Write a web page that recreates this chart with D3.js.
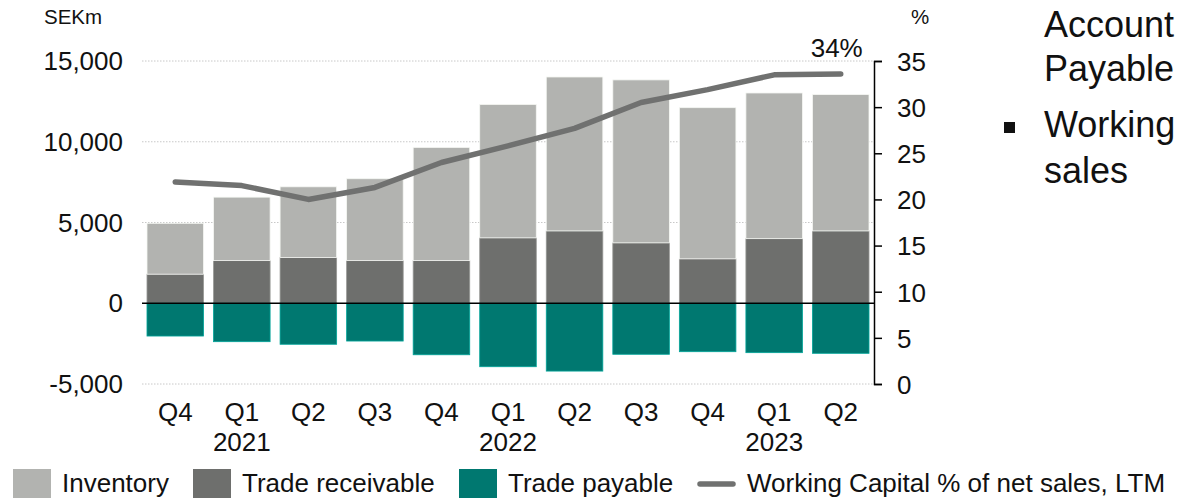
<!DOCTYPE html>
<html>
<head>
<meta charset="utf-8">
<script src="https://cdn.jsdelivr.net/npm/d3@7/dist/d3.min.js"></script>
<style>
  html, body { margin: 0; padding: 0; background: #fff; }
  svg { display: block; font-family: Arial, "Liberation Sans", sans-serif; }
</style>
</head>
<body>
<svg id="chart" width="1181" height="501"></svg>
<script>
// Quarters and the year label shown under each Q1
const quarters = ["Q4", "Q1", "Q2", "Q3", "Q4", "Q1", "Q2", "Q3", "Q4", "Q1", "Q2"];
const years = ["", "2021", "", "", "", "2022", "", "", "", "2023", ""];

// SEKm per quarter
const inventory  = [4950, 6570, 7210, 7710, 9650, 12310, 14010, 13830, 12110, 13020, 12920];
const receivable = [1800, 2640, 2830, 2640, 2640, 4050, 4480, 3740, 2750, 4000, 4480];
const payable    = [-2030, -2380, -2540, -2340, -3190, -3930, -4200, -3160, -3000, -3060, -3100];

// Working capital as % of net sales, last twelve months
const wcPct = [21.9, 21.5, 20.0, 21.3, 24.0, 25.8, 27.7, 30.5, 31.9, 33.5, 33.6];

const leftTicks = [-5000, 0, 5000, 10000, 15000];
const rightTicks = [0, 5, 10, 15, 20, 25, 30, 35];

const colors = { inventory: "#b2b3b0", receivable: "#6e6f6d", payable: "#007870", line: "#707170" };

// plain hyphen for negative numbers
const locale = d3.formatLocale({ decimal: ".", thousands: ",", grouping: [3], currency: ["", ""], minus: "-" });
const fmtSEK = locale.format(",");

const svg = d3.select("#chart");
const idx = quarters.map((_, i) => i);

const x = d3.scaleBand().domain(idx).range([142, 874]).paddingInner(0.15).paddingOuter(0.075);
const y = d3.scaleLinear().domain([-5000, 15000]).range([384, 61]);
const y2 = d3.scaleLinear().domain([0, 35]).range([384, 61]);

const fontSize = 26;

// dotted gridlines
svg.append("g")
  .selectAll("line")
  .data(leftTicks.filter(v => v !== 0))
  .join("line")
  .attr("x1", 142).attr("x2", 874)
  .attr("y1", d => y(d)).attr("y2", d => y(d))
  .attr("stroke", "#c8c8c8").attr("stroke-width", 1)
  .attr("stroke-dasharray", "1.5,1.5");

// stacked bars: receivable at the base, inventory above, payable below zero
const stroke = c => d3.color(c).brighter(0.9).formatHex();
const bars = svg.append("g");
bars.selectAll("rect.rec").data(idx).join("rect")
  .attr("class", "rec")
  .attr("x", i => x(i)).attr("width", x.bandwidth())
  .attr("y", i => y(receivable[i])).attr("height", i => y(0) - y(receivable[i]))
  .attr("fill", colors.receivable).attr("stroke", stroke(colors.receivable)).attr("stroke-width", 0.8);
bars.selectAll("rect.inv").data(idx).join("rect")
  .attr("class", "inv")
  .attr("x", i => x(i)).attr("width", x.bandwidth())
  .attr("y", i => y(inventory[i]))
  .attr("height", i => y(receivable[i]) - y(inventory[i]))
  .attr("fill", colors.inventory).attr("stroke", stroke(colors.inventory)).attr("stroke-width", 0.8);
bars.selectAll("rect.pay").data(idx).join("rect")
  .attr("class", "pay")
  .attr("x", i => x(i)).attr("width", x.bandwidth())
  .attr("y", y(0)).attr("height", i => y(payable[i]) - y(0))
  .attr("fill", colors.payable).attr("stroke", stroke(colors.payable)).attr("stroke-width", 0.8);

// zero line
svg.append("line")
  .attr("x1", 142).attr("x2", 874)
  .attr("y1", y(0)).attr("y2", y(0))
  .attr("stroke", "#000").attr("stroke-width", 1.3);

// working capital line
const line = d3.line().x(i => x(i) + x.bandwidth() / 2).y(i => y2(wcPct[i]));
svg.append("path")
  .datum(idx)
  .attr("d", line)
  .attr("fill", "none")
  .attr("stroke", colors.line)
  .attr("stroke-width", 5.5)
  .attr("stroke-linecap", "round")
  .attr("stroke-linejoin", "round");

// value label on the last point
const last = wcPct.length - 1;
svg.append("text")
  .attr("x", x(last) + x.bandwidth() / 2 + 22)
  .attr("y", 57)
  .attr("text-anchor", "end")
  .attr("font-size", fontSize)
  .attr("fill", "#111")
  .text(d3.format(".0f")(wcPct[last]) + "%");

// left axis labels
svg.append("g")
  .selectAll("text")
  .data(leftTicks)
  .join("text")
  .attr("x", 123)
  .attr("y", d => y(d) + 9)
  .attr("text-anchor", "end")
  .attr("font-size", fontSize)
  .attr("fill", "#111")
  .text(d => fmtSEK(d));

svg.append("text")
  .attr("x", 44).attr("y", 24)
  .attr("font-size", 20.5).attr("fill", "#111")
  .text("SEKm");

// right axis
const rAxis = svg.append("g")
  .attr("transform", "translate(874,0)")
  .call(d3.axisRight(y2).tickValues(rightTicks).tickSize(8).tickSizeOuter(8).tickFormat(d3.format("d")));
rAxis.select(".domain").attr("stroke", "#000").attr("stroke-width", 1.5);
rAxis.selectAll(".tick line").attr("stroke", "#000").attr("stroke-width", 1.5);
rAxis.selectAll(".tick text")
  .attr("x", 23).attr("dy", "0.36em")
  .attr("font-size", fontSize)
  .attr("font-family", "Arial, 'Liberation Sans', sans-serif")
  .attr("fill", "#111");

svg.append("text")
  .attr("x", 920).attr("y", 24)
  .attr("text-anchor", "middle")
  .attr("font-size", 20.5).attr("fill", "#111")
  .text("%");

// category labels
svg.append("g")
  .selectAll("text")
  .data(idx)
  .join("text")
  .attr("x", i => x(i) + x.bandwidth() / 2)
  .attr("y", 421)
  .attr("text-anchor", "middle")
  .attr("font-size", fontSize)
  .attr("fill", "#111")
  .text(i => quarters[i]);

svg.append("g")
  .selectAll("text")
  .data(idx.filter(i => years[i]))
  .join("text")
  .attr("x", i => x(i) + x.bandwidth() / 2)
  .attr("y", 451)
  .attr("text-anchor", "middle")
  .attr("font-size", fontSize)
  .attr("fill", "#111")
  .text(i => years[i]);

// legend
const legend = svg.append("g").attr("font-size", fontSize).attr("fill", "#111");
const swatches = [
  { x: 13, label: "Inventory", color: colors.inventory },
  { x: 193, label: "Trade receivable", color: colors.receivable },
  { x: 459, label: "Trade payable", color: colors.payable }
];
swatches.forEach(s => {
  legend.append("rect").attr("x", s.x).attr("y", 469).attr("width", 38).attr("height", 29).attr("fill", s.color);
  legend.append("text").attr("x", s.x + 49).attr("y", 492).text(s.label);
});
legend.append("line")
  .attr("x1", 700).attr("x2", 733).attr("y1", 484).attr("y2", 484)
  .attr("stroke", colors.line).attr("stroke-width", 5.5).attr("stroke-linecap", "round");
legend.append("text").attr("x", 747).attr("y", 492).text("Working Capital % of net sales, LTM");

// side notes
const notes = svg.append("g").attr("font-size", 36).attr("fill", "#111");
notes.append("text").attr("x", 1044).attr("y", 37).text("Account");
notes.append("text").attr("x", 1044).attr("y", 81).text("Payable");
notes.append("rect").attr("x", 1004).attr("y", 122).attr("width", 11).attr("height", 11).attr("fill", "#111");
notes.append("text").attr("x", 1044).attr("y", 137).text("Working");
notes.append("text").attr("x", 1044).attr("y", 183).text("sales");
</script>
</body>
</html>
